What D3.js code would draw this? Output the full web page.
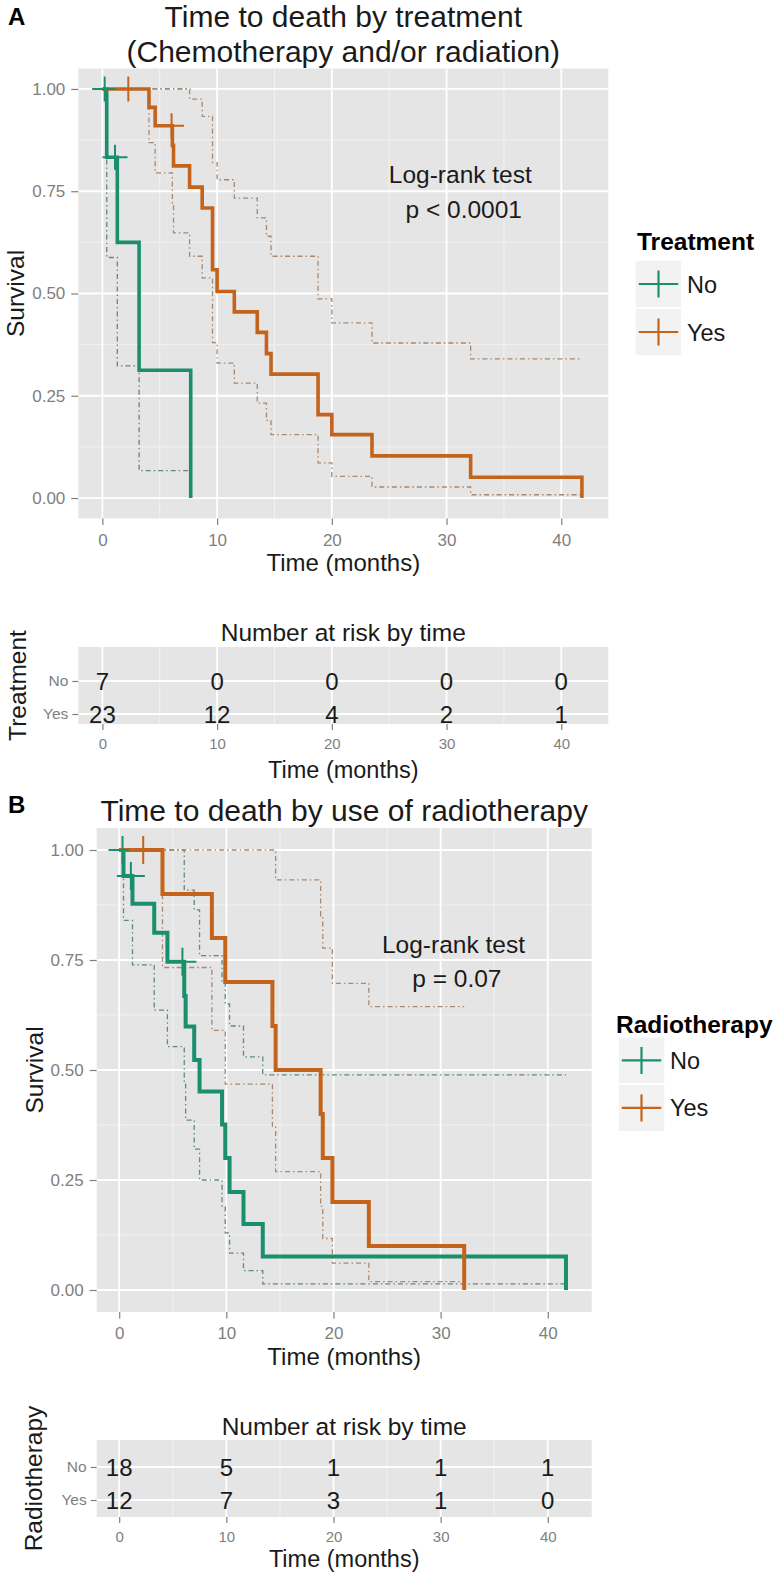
<!DOCTYPE html>
<html><head><meta charset="utf-8">
<script src="https://cdn.jsdelivr.net/npm/d3@7"></script>
<style>
body{margin:0;background:#fff}
svg{display:block}
text{font-family:"Liberation Sans",Arial,Helvetica,sans-serif}
</style></head>
<body><svg id="c" width="784" height="1585"></svg>
<script>
// ===================== DATA =====================
const timeTicks = [0, 10, 20, 30, 40];
const timeMinor = [5, 15, 25, 35];
const survTicks = [0, 0.25, 0.5, 0.75, 1];
const survMinor = [0.125, 0.375, 0.625, 0.875];
const groups = ["No", "Yes"];

// Panel A – Treatment (Chemotherapy and/or radiation)
const aNoTime   = [0, 0.38, 1.3, 3.2, 7.7];
const aNoSurv   = [1, 0.833, 0.625, 0.3125, 0];
const aNoLower  = [1, 0.588, 0.323, 0.067, null];
const aNoUpper  = [1, 1, 1, 1, null];
const aNoCens   = [0.2, 1.1];

const aYesTime  = [0, 4.06, 4.6, 6.1, 6.2, 7.6, 8.7, 9.6, 10.0, 11.5, 13.5, 14.3, 14.7, 18.8, 20.0, 23.5, 32.1, 41.8];
const aYesSurv  = [1, 0.955, 0.910, 0.862, 0.812, 0.760, 0.709, 0.558, 0.505, 0.455, 0.405, 0.353, 0.303, 0.204, 0.155, 0.103, 0.051, 0];
const aYesLower = [1, 0.869, 0.795, 0.72, 0.648, 0.591, 0.538, 0.38, 0.33, 0.281, 0.232, 0.19, 0.155, 0.086, 0.053, 0.027, 0.008, null];
const aYesUpper = [1, 1, 1, 1, 1, 0.975, 0.933, 0.82, 0.778, 0.733, 0.685, 0.64, 0.591, 0.487, 0.428, 0.379, 0.340, null];
const aYesCens  = [2.26, 6.03];

// Panel B – Radiotherapy
const bNoTime   = [0, 0.4, 1.24, 3.27, 4.5, 6.07, 6.2, 7.0, 7.5, 9.6, 9.9, 10.3, 11.6, 13.4, 41.7];
const bNoSurv   = [1, 0.941, 0.878, 0.812, 0.746, 0.668, 0.599, 0.523, 0.451, 0.376, 0.300, 0.223, 0.150, 0.076, 0];
const bNoLower  = [1, 0.84, 0.739, 0.636, 0.553, 0.47, 0.386, 0.32, 0.25, 0.19, 0.13, 0.084, 0.044, 0.014, null];
const bNoUpper  = [1, 1, 1, 1, 1, 0.909, 0.909, 0.864, 0.76, 0.70, 0.65, 0.60, 0.53, 0.489, null];
const bNoCens   = [0.31, 1.09, 5.9];

const bYesTime  = [0, 4.04, 8.65, 9.9, 14.3, 14.6, 18.8, 19.0, 19.9, 23.3, 32.2];
const bYesSurv  = [1, 0.9, 0.8, 0.7, 0.6, 0.5, 0.4, 0.3, 0.2, 0.1, 0];
const bYesLower = [1, 0.733, 0.59, 0.468, 0.37, 0.269, 0.19, 0.117, 0.061, 0.019, null];
const bYesUpper = [1, 1, 1, 1, 1, 0.932, 0.85, 0.777, 0.697, 0.644, null];
const bYesCens  = [2.24];

// Numbers at risk
const riskTimes = [0, 10, 20, 30, 40];
const aRiskNo  = [7, 0, 0, 0, 0];
const aRiskYes = [23, 12, 4, 2, 1];
const bRiskNo  = [18, 5, 1, 1, 1];
const bRiskYes = [12, 7, 3, 1, 0];

// ===================== STYLE =====================
const GREEN = "#1a8f6e", ORANGE = "#c4641c";
const GREEN_CI = "#5f8a7c", ORANGE_CI = "#a8886e";
const PANEL_BG = "#e5e5e5", MINOR = "#f2f2f2";
const AXIS_TXT = "#7f7f7f", TXT = "#1a1a1a";
const xDomain = [-2.1, 44.1], yDomain = [-0.05, 1.05];

const svg = d3.select("#c");
svg.append("rect").attr("width",784).attr("height",1585).attr("fill","#fff");

function T(g, x, y, s, o = {}) {
  const t = g.append("text").attr("x", x).attr("y", y).text(s)
    .attr("font-size", o.size || 16).attr("fill", o.fill || TXT)
    .attr("text-anchor", o.anchor || "start")
    .attr("font-weight", o.weight || "normal");
  if (o.rotate) t.attr("transform", `rotate(${o.rotate},${x},${y})`);
  if (o.pre) t.style("white-space", "pre");
  return t;
}

function stepPts(times, vals) {
  const pts = [];
  for (let i = 0; i < times.length; i++) {
    let v = vals[i];
    if (v == null) v = pts[i - 1][1];
    pts.push([times[i], v]);
  }
  return pts;
}
function survAt(times, surv, t) {
  let s = 1;
  for (let i = 0; i < times.length; i++) if (times[i] <= t) s = surv[i];
  return s;
}

function drawGrid(g, x, y, box, xMinor, yMajor, yMinorV) {
  g.append("rect").attr("x", box.L).attr("y", box.T).attr("width", box.R - box.L).attr("height", box.B - box.T).attr("fill", PANEL_BG);
  xMinor.forEach(v => g.append("line").attr("x1", x(v)).attr("x2", x(v)).attr("y1", box.T).attr("y2", box.B).attr("stroke", MINOR).attr("stroke-width", 1));
  (yMinorV || []).forEach(v => g.append("line").attr("y1", y(v)).attr("y2", y(v)).attr("x1", box.L).attr("x2", box.R).attr("stroke", MINOR).attr("stroke-width", 1));
  timeTicks.forEach(v => g.append("line").attr("x1", x(v)).attr("x2", x(v)).attr("y1", box.T).attr("y2", box.B).attr("stroke", "#fff").attr("stroke-width", 1.8));
  yMajor.forEach(v => g.append("line").attr("y1", y(v)).attr("y2", y(v)).attr("x1", box.L).attr("x2", box.R).attr("stroke", "#fff").attr("stroke-width", 1.8));
}

function styleAxis(sel) {
  sel.select(".domain").remove();
  sel.selectAll(".tick line").attr("stroke", AXIS_TXT).attr("stroke-width", 1.2);
  sel.selectAll(".tick text").attr("fill", AXIS_TXT).attr("font-family", '"Liberation Sans",Arial,sans-serif');
}

function plusPath(h) { return `M${-h},0H${h}M0,${-h}V${h}`; }

function drawKM(cfg) {
  const g = svg.append("g");
  const box = cfg.box;
  const x = d3.scaleLinear().domain(xDomain).range([box.L, box.R]);
  const y = d3.scaleLinear().domain(yDomain).range([box.B, box.T]);
  drawGrid(g, x, y, box, timeMinor, survTicks, survMinor);

  const line = d3.line().x(d => x(d[0])).y(d => y(d[1])).curve(d3.curveStepAfter);
  cfg.series.forEach(s => {
    [s.lower, s.upper].forEach(v => {
      g.append("path").attr("d", line(stepPts(s.time, v))).attr("fill", "none")
        .attr("stroke", s.ci).attr("stroke-width", 1.3).attr("stroke-dasharray", "5,3,1.5,3");
    });
  });
  cfg.series.forEach(s => {
    g.append("path").attr("d", line(stepPts(s.time, s.surv))).attr("fill", "none")
      .attr("stroke", s.color).attr("stroke-width", cfg.lw);
  });
  cfg.series.forEach(s => {
    s.cens.forEach(t => {
      g.append("path").attr("d", plusPath(cfg.ph))
        .attr("transform", `translate(${x(t)},${y(survAt(s.time, s.surv, t))})`)
        .attr("stroke", s.color).attr("stroke-width", 2).attr("fill", "none");
    });
  });

  const ax = g.append("g").attr("transform", `translate(0,${box.B})`)
    .call(d3.axisBottom(x).tickValues(timeTicks).tickSize(6.5).tickPadding(8.5));
  styleAxis(ax); ax.selectAll(".tick text").attr("font-size", 17);
  const ay = g.append("g").attr("transform", `translate(${box.L},0)`)
    .call(d3.axisLeft(y).tickValues(survTicks).tickFormat(d3.format(".2f")).tickSize(7).tickPadding(6));
  styleAxis(ay); ay.selectAll(".tick text").attr("font-size", 17);

  const cx = (box.L + box.R) / 2;
  T(g, cx, cfg.xTitleY, "Time (months)", { size: 24, anchor: "middle" });
  T(g, cfg.yTitleX, (box.T + box.B) / 2, "Survival", { size: 24.5, anchor: "middle", rotate: -90 });
  cfg.title.forEach((l, i) => T(g, cx, cfg.titleY[i], l, { size: 30, anchor: "middle" }));
  T(g, 8, cfg.letterY, cfg.letter, { size: 24, weight: "bold", fill: "#000" });

  const axp = x(cfg.ann.x), ayp = y(cfg.ann.y);
  T(g, axp, ayp + cfg.annOff[0], "Log-rank test", { size: 24.5, anchor: "middle" });
  T(g, axp, ayp + cfg.annOff[1], cfg.ann.p, { size: 24.5, anchor: "middle", pre: true });

  const L = cfg.legend;
  T(g, L.x, L.titleY, L.title, { size: 24.5, weight: "bold", fill: "#000" });
  cfg.series.forEach((s, i) => {
    const ky = L.keyY + i * L.keyH;
    g.append("rect").attr("x", L.keyX).attr("y", ky).attr("width", L.keyW).attr("height", L.keyH)
      .attr("fill", "#f2f2f2").attr("stroke", "#fff").attr("stroke-width", 1.5);
    const cy = ky + L.keyH / 2;
    g.append("line").attr("x1", L.keyX + L.keyW * 0.08).attr("x2", L.keyX + L.keyW * 0.92)
      .attr("y1", cy).attr("y2", cy).attr("stroke", s.color).attr("stroke-width", 2.2);
    g.append("line").attr("x1", L.keyX + L.keyW / 2).attr("x2", L.keyX + L.keyW / 2)
      .attr("y1", cy - 13.5).attr("y2", cy + 13.5).attr("stroke", s.color).attr("stroke-width", 2.2);
    T(g, L.keyX + L.keyW + 5, cy + 8.5, groups[i], { size: 23.5 });
  });
}

function drawRisk(cfg) {
  const g = svg.append("g");
  const box = cfg.box;
  const x = d3.scaleLinear().domain(xDomain).range([box.L, box.R]);
  const y = d3.scalePoint().domain(groups).range(cfg.rows);
  drawGrid(g, x, y, box, timeMinor, groups, null);
  const rows = [cfg.no, cfg.yes];
  rows.forEach((vals, r) => {
    vals.forEach((v, i) => {
      T(g, x(riskTimes[i]), y(groups[r]) + 8.6, String(v), { size: 24, anchor: "middle" });
    });
  });
  const ax = g.append("g").attr("transform", `translate(0,${box.B})`)
    .call(d3.axisBottom(x).tickValues(timeTicks).tickSize(6).tickPadding(8));
  styleAxis(ax); ax.selectAll(".tick text").attr("font-size", 15);
  const ay = g.append("g").attr("transform", `translate(${box.L},0)`)
    .call(d3.axisLeft(y).tickSize(6).tickPadding(4));
  styleAxis(ay); ay.selectAll(".tick text").attr("font-size", 15.5);
  const cx = (box.L + box.R) / 2;
  T(g, cx, cfg.titleY, "Number at risk by time", { size: 24.5, anchor: "middle" });
  T(g, cx, cfg.xTitleY, "Time (months)", { size: 23.5, anchor: "middle" });
  T(g, cfg.yTitleX, (box.T + box.B) / 2, cfg.yTitle, { size: 24.5, anchor: "middle", rotate: -90 });
}

// ===================== PANEL A =====================
drawKM({
  box: { L: 78.3, R: 608.3, T: 68.5, B: 518.5 },
  lw: 3.6, ph: 12.5,
  title: ["Time to death by treatment", "(Chemotherapy and/or radiation)"],
  titleY: [27, 62], letter: "A", letterY: 25,
  xTitleY: 571, yTitleX: 24,
  ann: { x: 31.2, y: 0.75, p: " p < 0.0001" }, annOff: [-8.6, 26.4],
  legend: { title: "Treatment", x: 637, titleY: 250, keyX: 635, keyY: 260, keyW: 47, keyH: 48 },
  series: [
    { time: aNoTime, surv: aNoSurv, lower: aNoLower, upper: aNoUpper, cens: aNoCens, color: GREEN, ci: GREEN_CI },
    { time: aYesTime, surv: aYesSurv, lower: aYesLower, upper: aYesUpper, cens: aYesCens, color: ORANGE, ci: ORANGE_CI }
  ]
});
drawRisk({
  box: { L: 78.3, R: 608.3, T: 647, B: 724 }, rows: [681, 714],
  no: aRiskNo, yes: aRiskYes,
  titleY: 641, xTitleY: 778, yTitleX: 26, yTitle: "Treatment"
});

// ===================== PANEL B =====================
drawKM({
  box: { L: 96.7, R: 591.7, T: 828, B: 1312 },
  lw: 4, ph: 14,
  title: ["Time to death by use of radiotherapy"],
  titleY: [821], letter: "B", letterY: 813,
  xTitleY: 1365, yTitleX: 43,
  ann: { x: 31.2, y: 0.75, p: " p = 0.07" }, annOff: [-6.7, 27.3],
  legend: { title: "Radiotherapy", x: 616, titleY: 1032.7, keyX: 618, keyY: 1036.7, keyW: 47, keyH: 47.5 },
  series: [
    { time: bNoTime, surv: bNoSurv, lower: bNoLower, upper: bNoUpper, cens: bNoCens, color: GREEN, ci: GREEN_CI },
    { time: bYesTime, surv: bYesSurv, lower: bYesLower, upper: bYesUpper, cens: bYesCens, color: ORANGE, ci: ORANGE_CI }
  ]
});
drawRisk({
  box: { L: 96.7, R: 591.7, T: 1440, B: 1517 }, rows: [1467, 1500],
  no: bRiskNo, yes: bRiskYes,
  titleY: 1435, xTitleY: 1567, yTitleX: 42, yTitle: "Radiotherapy"
});
</script>
</body></html>
